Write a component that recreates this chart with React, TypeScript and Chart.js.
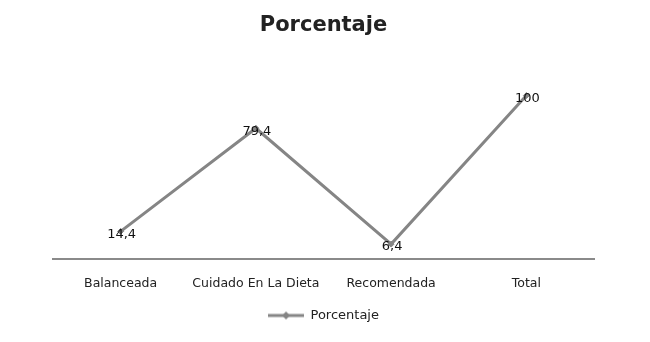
import React, { useEffect, useRef } from "react";
import { Chart, registerables } from "chart.js";

Chart.register(...registerables);

const categories = ["Balanceada", "Cuidado En La Dieta", "Recomendada", "Total"];
const porcentaje = [14.4, 79.4, 6.4, 100];
const seriesName = "Porcentaje";
const titleText = "Porcentaje";

const LINE_COLOR = "#858585";

function makeLegendIcon() {
  const c = document.createElement("canvas");
  c.width = 36;
  c.height = 10;
  const ctx = c.getContext("2d")!;
  ctx.strokeStyle = LINE_COLOR;
  ctx.lineWidth = 3;
  ctx.beginPath();
  ctx.moveTo(0, 5);
  ctx.lineTo(36, 5);
  ctx.stroke();
  ctx.fillStyle = LINE_COLOR;
  ctx.beginPath();
  ctx.moveTo(18, 1);
  ctx.lineTo(22, 5);
  ctx.lineTo(18, 9);
  ctx.lineTo(14, 5);
  ctx.closePath();
  ctx.fill();
  return c;
}

const labelPlugin = {
  id: "pointLabels",
  afterDatasetsDraw(chart: any) {
    const ctx = chart.ctx;
    const meta = chart.getDatasetMeta(0);
    ctx.save();
    ctx.font = "13px 'DejaVu Sans'";
    ctx.fillStyle = "#111";
    ctx.textAlign = "center";
    ctx.textBaseline = "middle";
    meta.data.forEach((el: any, i: number) => {
      const v = chart.data.datasets[0].data[i];
      const txt = String(v).replace(".", ",");
      ctx.fillText(txt, el.x + 1, el.y + 3);
    });
    ctx.restore();
  },
};

export default function App() {
  const ref = useRef<HTMLCanvasElement>(null);
  useEffect(() => {
    document.body.style.margin = "0";
    const icon = makeLegendIcon();
    const chart = new Chart(ref.current!, {
      type: "line",
      data: {
        labels: categories,
        datasets: [
          {
            label: seriesName,
            data: porcentaje,
            borderColor: LINE_COLOR,
            backgroundColor: LINE_COLOR,
            borderWidth: 3,
            pointStyle: "rectRot",
            pointRadius: 3,
            pointBorderWidth: 1,
            tension: 0,
          },
        ],
      },
      options: {
        responsive: false,
        animation: false,
        layout: { padding: { left: 53, right: 56, top: 6, bottom: 10 } },
        plugins: {
          title: {
            display: true,
            text: titleText,
            font: { family: "'DejaVu Sans'", size: 21, weight: "bold" },
            color: "#222",
            padding: { top: 7, bottom: 28 },
          },
          legend: {
            position: "bottom",
            labels: {
              font: { family: "'DejaVu Sans'", size: 13 },
              color: "#222",
              usePointStyle: true,
              pointStyle: icon as any,
              pointStyleWidth: 36,
              padding: 9,
            },
          },
          tooltip: { enabled: false },
        },
        scales: {
          x: {
            offset: true,
            grid: { display: false },
            border: { color: "#8a8a8a", width: 2 },
            ticks: {
              font: { family: "'DejaVu Sans'", size: 12.5 },
              color: "#222",
              maxRotation: 0,
              padding: 9,
            },
          },
          y: { display: false, min: -3, max: 118.5 },
        },
      },
      plugins: [labelPlugin],
    });
    return () => chart.destroy();
  }, []);
  return <canvas ref={ref} width={650} height={342} />;
}
